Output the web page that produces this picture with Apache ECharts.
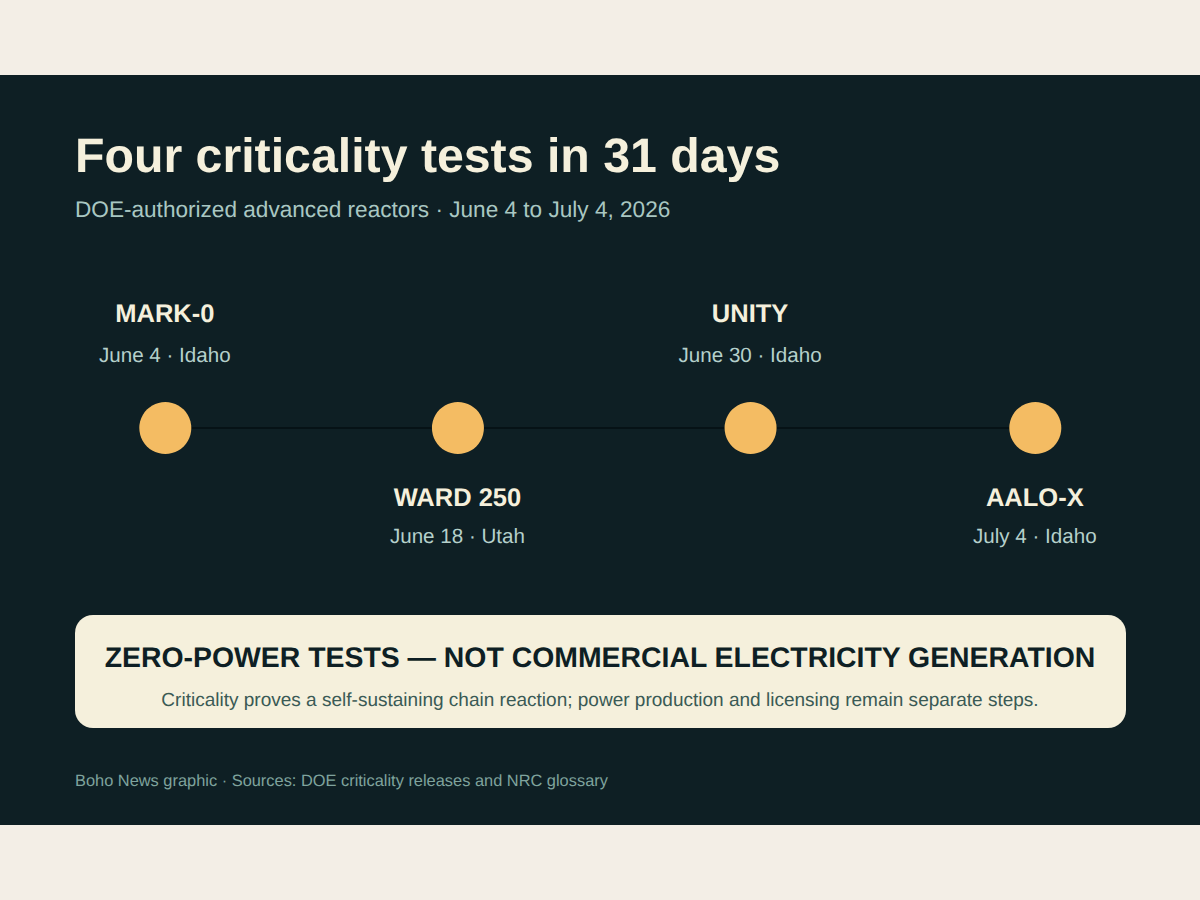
<!DOCTYPE html>
<html>
<head>
<meta charset="utf-8">
<script src="https://cdn.jsdelivr.net/npm/echarts@6/dist/echarts.min.js"></script>
<style>
  html, body { margin: 0; padding: 0; background: #f3eee6; }
  #container { width: 1200px; height: 900px; }
  #container text { text-rendering: geometricPrecision; }
</style>
</head>
<body>
<div id="container"></div>
<script>
var slots = [0, 1, 2, 2.973];
var names = ['MARK-0', 'WARD 250', 'UNITY', 'AALO-X'];
var dates = ['June 4 · Idaho', 'June 18 · Utah', 'June 30 · Idaho', 'July 4 · Idaho'];

var titleText = 'Four criticality tests in 31 days';
var subtitleText = 'DOE-authorized advanced reactors · June 4 to July 4, 2026';
var bannerHead = 'ZERO-POWER TESTS — NOT COMMERCIAL ELECTRICITY GENERATION';
var bannerNote = 'Criticality proves a self-sustaining chain reaction; power production and licensing remain separate steps.';
var sourceText = 'Boho News graphic · Sources: DOE criticality releases and NRC glossary';

var font = '"Liberation Sans", Arial, sans-serif';
var cream = '#f5f0dc';

var dom = document.getElementById('container');
var myChart = echarts.init(dom, null, { renderer: 'svg' });

var points = slots.map(function (s, i) {
    var above = i % 2 === 0;
    return {
        value: [s, 0],
        label: {
            position: above ? 'top' : 'bottom',
            distance: above ? 26 : 25,
            offset: [-0.5, 0],
            formatter: '{n|' + names[i] + '}\n{d|' + dates[i] + '}',
            rich: {
                n: { fontFamily: font, fontSize: 25.5, fontWeight: 'bold', color: cream, lineHeight: above ? 41.5 : 38.5, align: 'center' },
                d: { fontFamily: font, fontSize: 20.6, color: '#b5d0cb', lineHeight: above ? 41.5 : 38.5, align: 'center' }
            }
        }
    };
});

var option = {
    backgroundColor: '#f3eee6',
    animation: false,
    graphic: [
        { type: 'rect', z: -10, shape: { x: 0, y: 75, width: 1200, height: 750 }, style: { fill: '#0e1f24' } },
        { type: 'rect', z: -9, shape: { x: 75, y: 615, width: 1051, height: 113, r: 18 }, style: { fill: cream } },
        { type: 'text', x: 75, y: 156, style: { text: titleText, fontFamily: font, fontSize: 48.25, fontWeight: 'bold', fill: cream, align: 'left', verticalAlign: 'middle' } },
        { type: 'text', x: 75, y: 209, style: { text: subtitleText, fontFamily: font, fontSize: 22.6, fill: '#a9c7c2', align: 'left', verticalAlign: 'middle' } },
        { type: 'text', x: 600, y: 658, style: { text: bannerHead, fontFamily: font, fontSize: 28.4, fontWeight: 'bold', fill: '#0e1f24', align: 'center', verticalAlign: 'middle' } },
        { type: 'text', x: 600, y: 700, style: { text: bannerNote, fontFamily: font, fontSize: 19.03, fill: '#3a5a55', align: 'center', verticalAlign: 'middle' } },
        { type: 'text', x: 75, y: 780.5, style: { text: sourceText, fontFamily: font, fontSize: 16.4, fill: '#7fa39d', align: 'left', verticalAlign: 'middle' } }
    ],
    grid: { left: 165.3, right: 164.7, top: 328, height: 200 },
    xAxis: { type: 'value', min: 0, max: 2.973, show: false },
    yAxis: { type: 'value', min: -1, max: 1, show: false },
    series: [{
        type: 'line',
        data: points,
        symbol: 'circle',
        symbolSize: 52,
        itemStyle: { color: '#f4bc63' },
        lineStyle: { color: '#050f12', width: 1.5 },
        label: { show: true }
    }]
};
myChart.setOption(option, true);
</script>
</body>
</html>
